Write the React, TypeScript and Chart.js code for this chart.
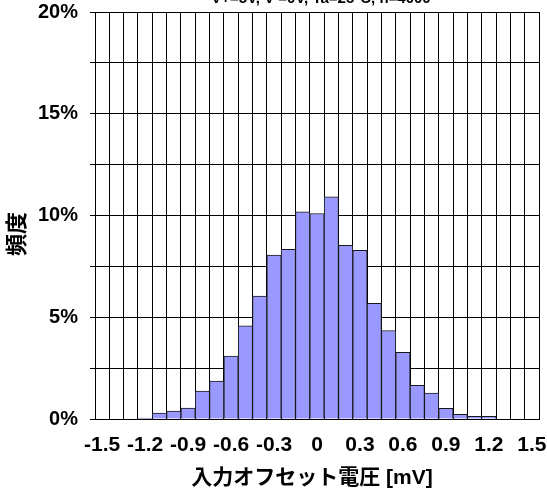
import React, { useEffect, useRef } from "react";
import { Chart, registerables } from "chart.js";

Chart.register(...registerables);

const categories = [
  "-1.5", "-1.4", "-1.3", "-1.2", "-1.1", "-1.0", "-0.9", "-0.8", "-0.7", "-0.6", "-0.5",
  "-0.4", "-0.3", "-0.2", "-0.1", "0", "0.1", "0.2", "0.3", "0.4", "0.5",
  "0.6", "0.7", "0.8", "0.9", "1.0", "1.1", "1.2", "1.3", "1.4", "1.5",
];

const frequency: (number | null)[] = [
  null, null, null, 0.05, 0.29, 0.39, 0.54, 1.37, 1.86, 3.09, 4.58,
  6.04, 8.06, 8.34, 10.18, 10.1, 10.92, 8.54, 8.29, 5.68, 4.35,
  3.28, 1.66, 1.27, 0.53, 0.23, 0.13, 0.13, null, null, null,
];

const shownXLabels = ["-1.5", "-1.2", "-0.9", "-0.6", "-0.3", "0", "0.3", "0.6", "0.9", "1.2", "1.5"];
const yLabelValues = [0, 5, 10, 15, 20];

const chartTitle = "V+=5V, V-=0V, Ta=25°C, n=4000";
const xTitle = "入力オフセット電圧 [mV]";
const yTitle = "頻度";

const FONT = '"Liberation Sans", Arial, "Noto Sans CJK JP", sans-serif';

const textPlugin = {
  id: "customTexts",
  afterDraw(chart: any) {
    const ctx = chart.ctx;
    ctx.save();
    ctx.fillStyle = "#000";
    ctx.textAlign = "center";
    ctx.font = `bold 15px ${FONT}`;
    ctx.textBaseline = "alphabetic";
    ctx.fillText(chartTitle, 321, 3);
    ctx.font = `bold 21px ${FONT}`;
    ctx.textBaseline = "middle";
    ctx.fillText(xTitle, 312, 478);
    ctx.font = `bold 22px ${FONT}`;
    ctx.translate(18, 234);
    ctx.rotate(-Math.PI / 2);
    ctx.fillText(yTitle, 0, 0);
    ctx.restore();
  },
};

export default function App() {
  const ref = useRef<HTMLCanvasElement | null>(null);

  useEffect(() => {
    if (!ref.current) return;
    const chart = new Chart(ref.current, {
      type: "bar",
      data: {
        labels: categories,
        datasets: [
          {
            data: frequency,
            backgroundColor: "#9999FF",
            borderColor: "#1a1a1a",
            borderWidth: 1,
            barPercentage: 1,
            categoryPercentage: 1,
          },
        ],
      },
      options: {
        animation: false,
        responsive: false,
        maintainAspectRatio: false,
        layout: { padding: { left: 0, right: 8, top: 12, bottom: 0 } },
        plugins: {
          legend: { display: false },
          tooltip: { enabled: false },
          title: { display: false },
        },
        scales: {
          x: {
            type: "category",
            offset: true,
            grid: {
              offset: true,
              color: "#000",
              lineWidth: 1,
              drawTicks: false,
            },
            border: { color: "#000", width: 1 },
            ticks: {
              autoSkip: false,
              maxRotation: 0,
              minRotation: 0,
              padding: 14,
              color: "#000",
              font: { family: FONT, size: 21, weight: "bold" },
              callback: function (_v: any, idx: number) {
                const lab = categories[idx];
                return shownXLabels.includes(lab) ? lab : "";
              },
            },
            afterFit: (scale: any) => {
              scale.height = 77;
              scale.paddingLeft = 0;
              scale.paddingRight = 0;
            },
          },
          y: {
            min: 0,
            max: 20,
            grid: {
              color: "#000",
              lineWidth: 1,
              tickLength: 5,
            },
            border: { color: "#000", width: 1 },
            ticks: {
              stepSize: 2.5,
              padding: 12,
              color: "#000",
              font: { family: FONT, size: 20, weight: "bold" },
              callback: (v: any) => (yLabelValues.includes(Number(v)) ? `${v}%` : ""),
            },
            afterFit: (scale: any) => {
              scale.width = 95;
              scale.paddingTop = 0;
              scale.paddingBottom = 0;
            },
          },
        },
      },
      plugins: [textPlugin],
    });
    return () => chart.destroy();
  }, []);

  return (
    <div style={{ position: "fixed", left: 0, top: 0, width: 547, height: 496, background: "#fff" }}>
      <canvas ref={ref} width={547} height={496} style={{ display: "block", width: 547, height: 496 }} />
    </div>
  );
}
